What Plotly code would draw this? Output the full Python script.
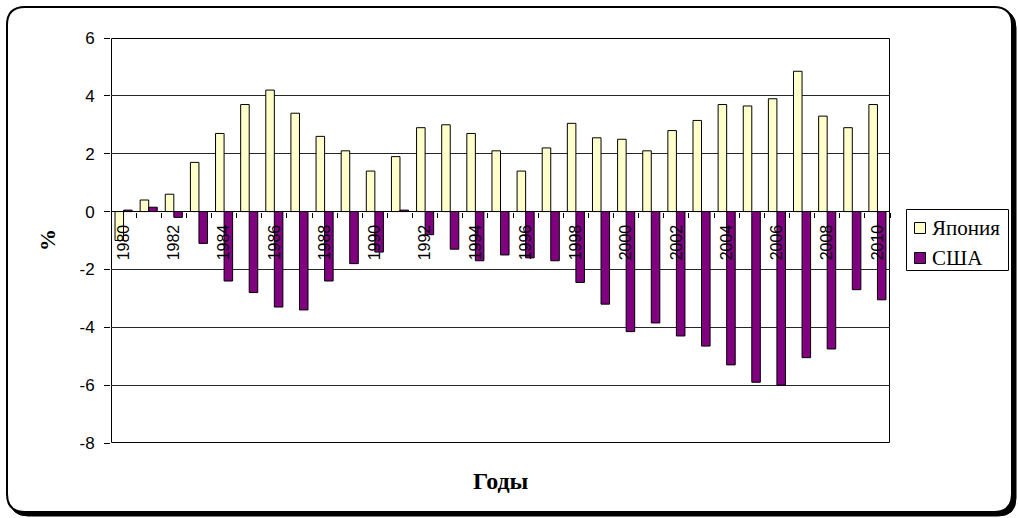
import plotly.graph_objects as go

# Current account balance, % of GDP
years = list(range(1980, 2011))
japan = [-1.0, 0.4, 0.6, 1.7, 2.7, 3.7, 4.2, 3.4, 2.6, 2.1,
         1.4, 1.9, 2.9, 3.0, 2.7, 2.1, 1.4, 2.2, 3.05, 2.55,
         2.5, 2.1, 2.8, 3.15, 3.7, 3.65, 3.9, 4.85, 3.3, 2.9, 3.7]
usa = [0.05, 0.15, -0.2, -1.1, -2.4, -2.8, -3.3, -3.4, -2.4, -1.8,
       -1.4, 0.05, -0.8, -1.3, -1.7, -1.5, -1.6, -1.7, -2.45, -3.2,
       -4.15, -3.85, -4.3, -4.65, -5.3, -5.9, -6.0, -5.05, -4.75, -2.7, -3.05]
series_names = ["Япония", "США"]
series_colors = ["#FFFFCC", "#800080"]
label_years = [y for y in years if y % 2 == 0]
y_ticks = [-8, -6, -4, -2, 0, 2, 4, 6]

W, H = 1018, 518
ML, MR, MT, MB = 111, 128, 38, 75
PW, PH = W - ML - MR, H - MT - MB
Y_MIN, Y_MAX = -8, 6
SERIF = "Liberation Serif, Times New Roman"


def px(x):
    return (x - ML) / PW


def py(y):
    return (H - MB - y) / PH


def rounded_rect(x0, y0, x1, y1, r):
    pts = [
        ("M", [(x0 + r, y0)]), ("L", [(x1 - r, y0)]),
        ("Q", [(x1, y0), (x1, y0 + r)]), ("L", [(x1, y1 - r)]),
        ("Q", [(x1, y1), (x1 - r, y1)]), ("L", [(x0 + r, y1)]),
        ("Q", [(x0, y1), (x0, y1 - r)]), ("L", [(x0, y0 + r)]),
        ("Q", [(x0, y0), (x0 + r, y0)]),
    ]
    out = []
    for cmd, coords in pts:
        out.append(cmd + " ".join(f"{px(a):.5f},{py(b):.5f}" for a, b in coords))
    return " ".join(out) + " Z"


fig = go.Figure()
for name, vals, col in zip(series_names, [japan, usa], series_colors):
    fig.add_trace(go.Bar(x=years, y=vals, name=name, showlegend=False,
                         marker=dict(color=col, line=dict(color="black", width=1))))
# helper trace carrying the category-boundary tick marks
fig.add_trace(go.Scatter(x=years, y=[0] * len(years), xaxis="x2", mode="markers",
                         marker=dict(opacity=0), showlegend=False, hoverinfo="skip"))

axis_pos = (0 - Y_MIN) / (Y_MAX - Y_MIN)
xr = [years[0] - 0.5, years[-1] + 0.5]

fig.update_layout(
    width=W, height=H,
    margin=dict(l=ML, r=MR, t=MT, b=MB, pad=0),
    paper_bgcolor="white", plot_bgcolor="white",
    barmode="group", bargap=0.32, bargroupgap=0,
    font=dict(family="Liberation Sans, Arial", color="black"),
    xaxis=dict(type="linear", range=xr, anchor="free", position=axis_pos,
               tickvals=label_years, ticktext=[str(y) for y in label_years],
               tickangle=-90, ticks="", showgrid=False, zeroline=False,
               showline=False, tickfont=dict(size=16), ticklabelstandoff=9),
    xaxis2=dict(type="linear", range=xr, overlaying="x", anchor="free",
                position=axis_pos, tickvals=[y + 0.5 for y in years],
                ticks="outside", ticklen=5, tickcolor="black",
                showticklabels=False, showgrid=False, zeroline=False, showline=False),
    yaxis=dict(range=[Y_MIN, Y_MAX], tickvals=y_ticks,
               ticktext=[str(v) for v in y_ticks], ticks="outside", ticklen=6,
               tickcolor="black", showline=False,
               showgrid=True, gridcolor="#262626", gridwidth=1,
               zeroline=True, zerolinecolor="black", zerolinewidth=1,
               tickfont=dict(size=17), ticklabelstandoff=6),
    showlegend=False,
)

# outer frame with a drop shadow
fig.add_shape(type="path", xref="paper", yref="paper", layer="below",
              path=rounded_rect(10, 10, 1016, 516, 18),
              fillcolor="black", line=dict(color="black", width=1))
fig.add_shape(type="path", xref="paper", yref="paper", layer="below",
              path=rounded_rect(7, 7, 1012, 512, 18),
              fillcolor="white", line=dict(color="black", width=2))
# plot-area border
fig.add_shape(type="rect", xref="paper", yref="paper", layer="below",
              x0=px(111.5), x1=px(889.5), y0=py(442.5), y1=py(38.5),
              line=dict(color="black", width=1))

# legend box
LX0, LX1, LY0, LY1 = 906.5, 1008.5, 209.5, 270.5
fig.add_shape(type="rect", xref="paper", yref="paper",
              x0=px(LX0), x1=px(LX1), y0=py(LY1), y1=py(LY0),
              line=dict(color="black", width=1), fillcolor="white")
for i, (name, col) in enumerate(zip(series_names, series_colors)):
    cy = 228 + 30 * i
    fig.add_shape(type="rect", xref="paper", yref="paper",
                  x0=px(914.5), x1=px(925.5), y0=py(cy + 5.5), y1=py(cy - 5.5),
                  line=dict(color="black", width=1), fillcolor=col)
    fig.add_annotation(x=px(930), y=py(cy), xref="paper", yref="paper", text=name,
                       showarrow=False, xanchor="left", yanchor="middle",
                       font=dict(family=SERIF, size=21))

fig.add_annotation(x=px(47), y=py(240), xref="paper", yref="paper", text="<b>%</b>",
                   textangle=-90, showarrow=False, xanchor="center", yanchor="middle",
                   font=dict(family=SERIF, size=22))
fig.add_annotation(x=px(501), y=py(481), xref="paper", yref="paper", text="<b>Годы</b>",
                   showarrow=False, xanchor="center", yanchor="middle",
                   font=dict(family=SERIF, size=24))

fig.write_html("out.html")
